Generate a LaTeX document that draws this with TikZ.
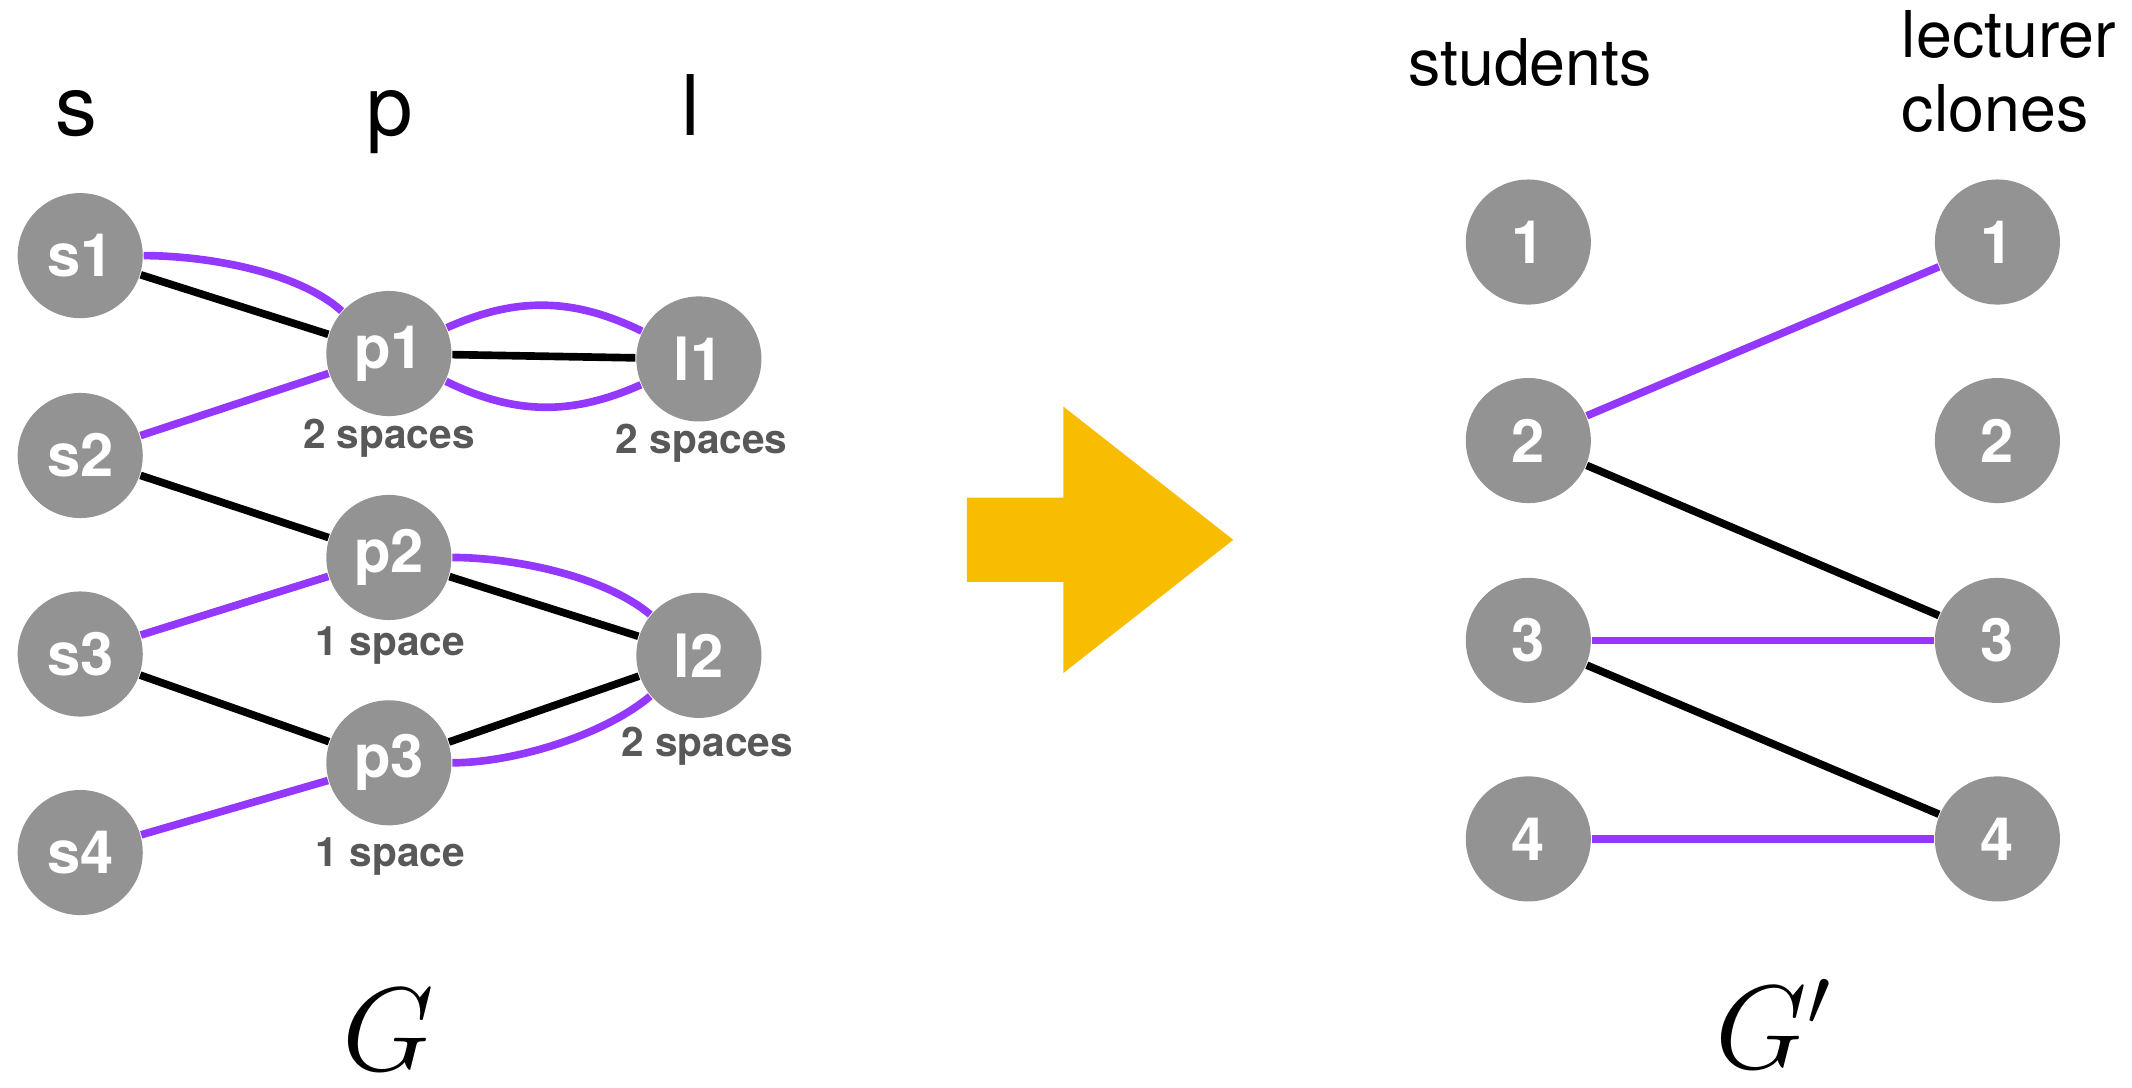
\documentclass[tikz,border=0pt]{standalone}
\usepackage{fontspec}
\setmainfont{TeX Gyre Heros}
\definecolor{nodegray}{RGB}{147,147,147}
\definecolor{matchpurple}{RGB}{149,56,255}
\definecolor{capgray}{RGB}{88,88,88}
\definecolor{arrowyellow}{RGB}{248,188,0}

\begin{document}
\begin{tikzpicture}[vert/.style={circle, fill=nodegray, minimum size=0.92cm, inner sep=0pt, text=white, font=\fontsize{12.5}{15}\selectfont\bfseries},
		capac/.style={text=capgray, inner sep=0pt, font=\fontsize{8.5}{10}\selectfont\bfseries},
		colhead/.style={inner sep=0pt, anchor=base, font=\fontsize{17.5}{20}\selectfont},
		sidehead/.style={inner sep=0pt, anchor=base west, font=\fontsize{13.5}{16}\selectfont},
		plain/.style={line width=1.6pt, black},
		pref/.style={line width=1.6pt, matchpurple}]
		\useasboundingbox (0,0) rectangle (15.68,-8);
		%left graph G
			%headers
			\node [colhead] (hs) at (0.56,-1.0) {s};
			\node [colhead] (hp) at (2.87,-1.0) {p};
			\node [colhead] (hl) at (5.08,-1.0) {l};
			%students
			\node [vert] (s1) at (0.59,-1.88) {s1};
			\node [vert] (s2) at (0.59,-3.35) {s2};
			\node [vert] (s3) at (0.59,-4.81) {s3};
			\node [vert] (s4) at (0.59,-6.27) {s4};
			%projects
			\node [vert] (p1) at (2.86,-2.60) {p1};
			\node [vert] (p2) at (2.86,-4.10) {p2};
			\node [vert] (p3) at (2.86,-5.61) {p3};
			%lecturers
			\node [vert] (l1) at (5.14,-2.64) {l1};
			\node [vert] (l2) at (5.14,-4.82) {l2};
			%capacities
			\node [capac] (cp1) at (2.86,-3.22) {2 spaces};
			\node [capac] (cl1) at (5.16,-3.26) {2 spaces};
			\node [capac] (cp2) at (2.87,-4.75) {1 space};
			\node [capac] (cl2) at (5.20,-5.49) {2 spaces};
			\node [capac] (cp3) at (2.87,-6.30) {1 space};
			%edges
			\draw [plain] (s1) to (p1);
			\draw [pref] (s1) to [out=0, in=138, looseness=0.75] (p1);
			\draw [pref] (s2) to (p1);
			\draw [plain] (s2) to (p2);
			\draw [pref] (s3) to (p2);
			\draw [plain] (s3) to (p3);
			\draw [pref] (s4) to (p3);
			\draw [plain] (p1) to (l1);
			\draw [pref] (p1) to [bend left=25] (l1);
			\draw [pref] (p1) to [bend right=25] (l1);
			\draw [plain] (p2) to (l2);
			\draw [pref] (p2) to [out=0, in=140, looseness=0.75] (l2);
			\draw [plain] (p3) to (l2);
			\draw [pref] (p3) to [out=0, in=-140, looseness=0.75] (l2);
			\node [inner sep=0pt, anchor=base, font=\fontsize{26}{30}\selectfont] (gname) at (2.86,-7.87) {$G$};
		%arrow
			\fill [arrowyellow] (7.11,-3.66) -- (7.82,-3.66) -- (7.82,-2.99) -- (9.07,-3.97) -- (7.82,-4.95) -- (7.82,-4.28) -- (7.11,-4.28) -- cycle;
		%right graph G'
			%headers
			\node [sidehead] (hstud) at (10.35,-0.63) {students};
			\node [sidehead] (hlect) at (13.98,-0.42) {lecturer};
			\node [sidehead] (hclon) at (13.98,-0.97) {clones};
			%students
			\node [vert] (a1) at (11.24,-1.78) {1};
			\node [vert] (a2) at (11.24,-3.24) {2};
			\node [vert] (a3) at (11.24,-4.71) {3};
			\node [vert] (a4) at (11.24,-6.17) {4};
			%lecturer clones
			\node [vert] (b1) at (14.69,-1.78) {1};
			\node [vert] (b2) at (14.69,-3.24) {2};
			\node [vert] (b3) at (14.69,-4.71) {3};
			\node [vert] (b4) at (14.69,-6.17) {4};
			%edges
			\draw [pref] (a2) to (b1);
			\draw [plain] (a2) to (b3);
			\draw [pref] (a3) to (b3);
			\draw [plain] (a3) to (b4);
			\draw [pref] (a4) to (b4);
			\node [inner sep=0pt, anchor=base, font=\fontsize{26}{30}\selectfont] (gprime) at (13.05,-7.86) {$G'$};
\end{tikzpicture}
\end{document}
